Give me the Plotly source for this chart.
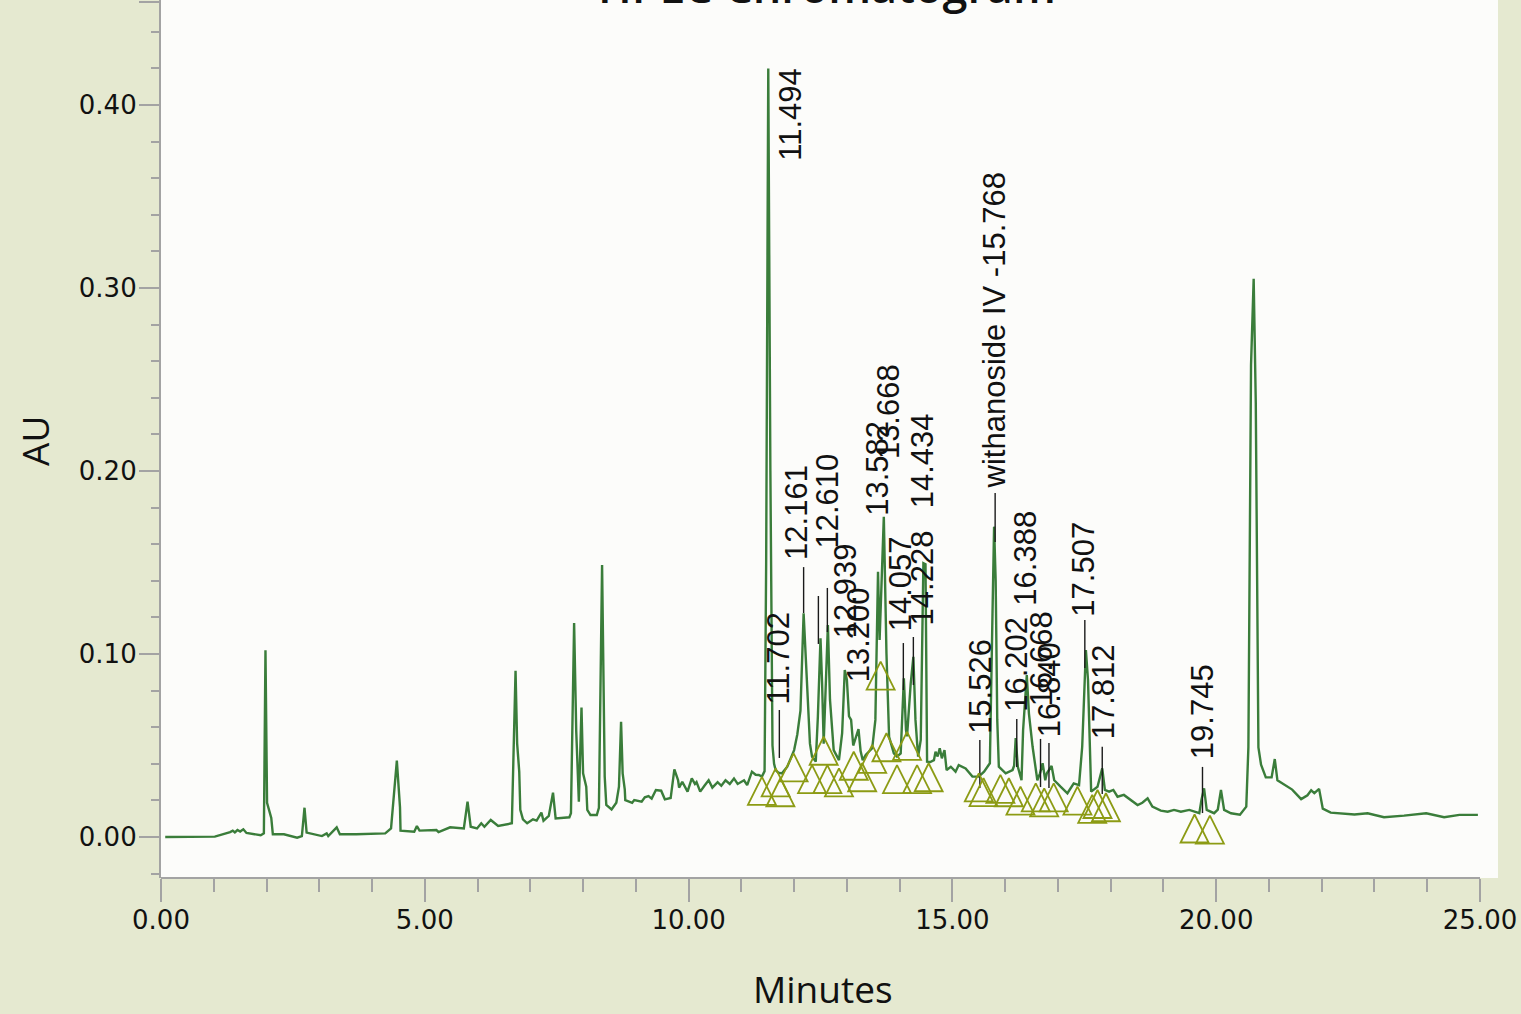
import plotly.graph_objects as go

# ---------------- data ----------------
time_min = [
    0.08, 1.02, 1.31, 1.36, 1.40, 1.45, 1.50, 1.56, 1.62, 1.89, 1.95, 1.98, 2.01, 2.09, 2.12,
    2.33, 2.58, 2.67, 2.72, 2.76, 3.05, 3.14, 3.17, 3.33, 3.39, 3.70, 4.25, 4.36, 4.47, 4.53,
    4.54, 4.80, 4.85, 4.90, 5.22, 5.26, 5.48, 5.74, 5.81, 5.87, 5.99, 6.07, 6.13, 6.25, 6.39,
    6.54, 6.65, 6.72, 6.75, 6.79, 6.81, 6.86, 6.94, 7.05, 7.12, 7.21, 7.25, 7.35, 7.43, 7.48,
    7.74, 7.77, 7.83, 7.87, 7.92, 7.97, 8.00, 8.06, 8.08, 8.14, 8.26, 8.30, 8.36, 8.41, 8.44,
    8.54, 8.63, 8.68, 8.72, 8.75, 8.79, 8.80, 8.93, 8.97, 9.11, 9.17, 9.24, 9.30, 9.38, 9.48,
    9.55, 9.66, 9.73, 9.80, 9.82, 9.88, 9.98, 10.06, 10.12, 10.15, 10.22, 10.30, 10.38, 10.45,
    10.55, 10.62, 10.70, 10.78, 10.86, 10.93, 10.98, 11.05, 11.11, 11.20, 11.27, 11.33, 11.39,
    11.44, 11.47, 11.51, 11.55, 11.59, 11.62, 11.65, 11.70, 11.77, 11.87, 12.00, 12.06, 12.12,
    12.18, 12.25, 12.30, 12.34, 12.41, 12.45, 12.50, 12.53, 12.56, 12.59, 12.64, 12.68, 12.75,
    12.85, 12.91, 12.96, 13.00, 13.04, 13.08, 13.12, 13.18, 13.22, 13.26, 13.30, 13.36, 13.42,
    13.48, 13.54, 13.59, 13.62, 13.66, 13.70, 13.75, 13.80, 13.89, 13.95, 14.02, 14.08, 14.12,
    14.14, 14.21, 14.26, 14.30, 14.35, 14.40, 14.45, 14.49, 14.52, 14.58, 14.65, 14.68, 14.72,
    14.76, 14.80, 14.85, 14.89, 14.97, 15.06, 15.12, 15.25, 15.38, 15.50, 15.60, 15.71, 15.76,
    15.79, 15.82, 15.85, 15.88, 16.01, 16.14, 16.17, 16.20, 16.24, 16.31, 16.34, 16.41, 16.45,
    16.52, 16.61, 16.66, 16.71, 16.76, 16.79, 16.88, 16.93, 17.05, 17.18, 17.30, 17.40, 17.46,
    17.53, 17.57, 17.61, 17.63, 17.75, 17.80, 17.84, 17.89, 17.97, 18.05, 18.13, 18.25, 18.38,
    18.51, 18.60, 18.70, 18.79, 18.95, 19.08, 19.20, 19.33, 19.49, 19.68, 19.72, 19.77, 19.82,
    19.96, 20.03, 20.09, 20.15, 20.28, 20.45, 20.57, 20.61, 20.66, 20.71, 20.75, 20.80, 20.85,
    20.94, 21.05, 21.11, 21.16, 21.32, 21.44, 21.61, 21.73, 21.80, 21.86, 21.95, 22.02, 22.17,
    22.36, 22.62, 22.87, 23.18, 23.56, 23.98, 24.32, 24.61, 24.96,
]
absorbance = [
    0.0000, 0.0002, 0.0027, 0.0035, 0.0025, 0.0038, 0.0030, 0.0042, 0.0022, 0.0010, 0.0020, 0.1020, 0.0187, 0.0104, 0.0015,
    0.0015, -0.0004, 0.0005, 0.0160, 0.0024, 0.0005, 0.0020, 0.0005, 0.0053, 0.0015, 0.0015, 0.0020, 0.0047, 0.0417, 0.0162,
    0.0035, 0.0029, 0.0060, 0.0035, 0.0038, 0.0027, 0.0053, 0.0047, 0.0193, 0.0056, 0.0047, 0.0075, 0.0056, 0.0093, 0.0060,
    0.0071, 0.0075, 0.0909, 0.0512, 0.0357, 0.0148, 0.0097, 0.0075, 0.0097, 0.0090, 0.0133, 0.0089, 0.0115, 0.0242, 0.0102,
    0.0108, 0.0130, 0.1170, 0.0580, 0.0193, 0.0707, 0.0348, 0.0275, 0.0148, 0.0120, 0.0120, 0.0159, 0.1486, 0.0330, 0.0175,
    0.0151, 0.0187, 0.0275, 0.0630, 0.0348, 0.0260, 0.0202, 0.0187, 0.0202, 0.0193, 0.0217, 0.0224, 0.0210, 0.0257, 0.0253,
    0.0206, 0.0213, 0.0370, 0.0311, 0.0270, 0.0302, 0.0248, 0.0320, 0.0290, 0.0300, 0.0248, 0.0280, 0.0310, 0.0270,
    0.0300, 0.0280, 0.0310, 0.0290, 0.0320, 0.0290, 0.0300, 0.0310, 0.0284, 0.0357, 0.0340, 0.0339, 0.0330,
    0.0360, 0.1500, 0.4200, 0.2000, 0.0500, 0.0400, 0.0366, 0.0352, 0.0348, 0.0384, 0.0475, 0.0560, 0.0690,
    0.1222, 0.0840, 0.0510, 0.0439, 0.0412, 0.0657, 0.1086, 0.0840, 0.0510, 0.0750, 0.1158, 0.0749, 0.0475,
    0.0420, 0.0567, 0.0913, 0.0860, 0.0660, 0.0640, 0.0500, 0.0560, 0.0590, 0.0470, 0.0420, 0.0450, 0.0470,
    0.0485, 0.0640, 0.1450, 0.1077, 0.1400, 0.1750, 0.1004, 0.0548, 0.0457, 0.0439, 0.0457, 0.0867, 0.0585,
    0.0550, 0.0840, 0.0985, 0.0640, 0.0439, 0.0530, 0.1496, 0.1490, 0.0412, 0.0410, 0.0420, 0.0466, 0.0440,
    0.0485, 0.0430, 0.0475, 0.0366, 0.0384, 0.0357, 0.0393, 0.0375, 0.0330, 0.0330, 0.0357, 0.0403, 0.1220,
    0.1696, 0.1400, 0.0640, 0.0384, 0.0348, 0.0366, 0.0390, 0.0540, 0.0384, 0.0310, 0.0585, 0.0885, 0.0676,
    0.0493, 0.0310, 0.0348, 0.0403, 0.0310, 0.0348, 0.0388, 0.0310, 0.0275, 0.0239, 0.0293, 0.0284, 0.0493,
    0.1022, 0.0858, 0.0403, 0.0248, 0.0275, 0.0330, 0.0375, 0.0257, 0.0248, 0.0257, 0.0220, 0.0230, 0.0202,
    0.0175, 0.0187, 0.0211, 0.0166, 0.0144, 0.0138, 0.0148, 0.0138, 0.0148, 0.0130, 0.0202, 0.0266, 0.0148,
    0.0130, 0.0150, 0.0257, 0.0148, 0.0130, 0.0122, 0.0166, 0.0490, 0.2580, 0.3050, 0.2370, 0.0490, 0.0395,
    0.0326, 0.0326, 0.0426, 0.0310, 0.0280, 0.0259, 0.0207, 0.0228, 0.0255, 0.0240, 0.0263, 0.0155, 0.0133,
    0.0130, 0.0123, 0.0130, 0.0108, 0.0117, 0.0130, 0.0108, 0.0121, 0.0121,
]

# peak labels: text, time at which the label stands, AU where the label begins
label_text = ["11.494", "11.702", "12.161", "12.610", "12.939", "13.200", "13.582", "13.668",
              "14.057", "14.228", "14.434", "15.526", "withanoside IV -15.768", "16.202",
              "16.388", "16.668", "16.840", "17.507", "17.812", "19.745"]
label_time = [11.93, 11.71, 12.03, 12.63, 12.99, 13.22, 13.58, 13.79,
              14.02, 14.43, 14.45, 15.52, 15.79, 16.20,
              16.39, 16.69, 16.84, 17.49, 17.87, 19.74]
label_base = [0.369, 0.072, 0.151, 0.157, 0.108, 0.084, 0.175, 0.206,
              0.112, 0.115, 0.179, 0.056, 0.190, 0.068,
              0.126, 0.071, 0.054, 0.120, 0.053, 0.042]

# leader lines drawn from peak apex upward
leader_time = [11.72, 12.18, 12.46, 12.63, 14.07, 14.26, 15.52, 15.81, 16.22, 16.67, 16.83, 17.51, 17.84, 19.74]
leader_low = [0.0432, 0.1224, 0.1055, 0.1120, 0.0803, 0.0831, 0.0268, 0.1612, 0.0383, 0.0273, 0.0268, 0.0923, 0.0235, 0.0131]
leader_high = [0.0694, 0.1475, 0.1317, 0.1361, 0.1060, 0.1093, 0.0530, 0.1880, 0.0645, 0.0536, 0.0514, 0.1186, 0.0493, 0.0383]

# integration (peak start / end) markers
marker_time = [11.39, 11.65, 11.74, 11.99, 12.34, 12.56, 12.63, 12.85, 13.13, 13.29, 13.48, 13.64,
               13.75, 13.95, 14.14, 14.33, 14.55, 15.50, 15.59, 15.91, 16.07, 16.29, 16.58, 16.74,
               16.92, 17.37, 17.65, 17.75, 17.91, 19.59, 19.88]
marker_au = [0.0329, 0.0375, 0.0321, 0.0457, 0.0393, 0.0548, 0.0393, 0.0375, 0.0466, 0.0403, 0.0503, 0.0958,
             0.0567, 0.0393, 0.0575, 0.0393, 0.0403, 0.0348, 0.0322, 0.0339, 0.0321, 0.0275, 0.0293, 0.0266,
             0.0293, 0.0275, 0.0230, 0.0257, 0.0239, 0.0123, 0.0117]

x_ticks = [0, 5, 10, 15, 20, 25]
x_tick_text = ["0.00", "5.00", "10.00", "15.00", "20.00", "25.00"]
y_ticks = [0.0, 0.1, 0.2, 0.3, 0.4]
y_tick_text = ["0.00", "0.10", "0.20", "0.30", "0.40"]

# ---------------- styling ----------------
PAPER = "#e5e9d0"
PLOT = "#fcfcfa"
GREEN = "#3a7d3a"
OLIVE = "#8c9b14"
AXIS = "#a3a3a3"
TICKFONT = dict(family="DejaVu Sans, sans-serif", size=26, color="#111111")
LABELFONT = dict(family="Liberation Sans, Arial, sans-serif", size=31, color="#111111")

Y_MIN, Y_MAX = -0.0224, 0.4574
X_MAX = 25.341

fig = go.Figure()

fig.add_trace(go.Scatter(x=time_min, y=absorbance, mode="lines",
                         line=dict(color=GREEN, width=2.4), hoverinfo="skip", showlegend=False))

lx, ly = [], []
for t, lo, hi in zip(leader_time, leader_low, leader_high):
    lx += [t, t, None]
    ly += [lo, hi, None]
fig.add_trace(go.Scatter(x=lx, y=ly, mode="lines", line=dict(color="#1a1a1a", width=1.4),
                         hoverinfo="skip", showlegend=False))

fig.add_trace(go.Scatter(x=marker_time, y=marker_au, mode="markers",
                         marker=dict(symbol="arrow-up-open", size=28, color=OLIVE,
                                     line=dict(color=OLIVE, width=1.8)),
                         hoverinfo="skip", showlegend=False))

annotations = []
for txt, t, b in zip(label_text, label_time, label_base):
    annotations.append(dict(x=t, y=b, xref="x", yref="y", text=txt, showarrow=False,
                            textangle=-90, xanchor="center", yanchor="bottom",
                            font=LABELFONT, borderpad=0))

annotations.append(dict(x=0.4978, y=1, xref="paper", yref="paper", text="HPLC Chromatogram",
                        showarrow=False, xanchor="center", yanchor="middle", yshift=15,
                        font=dict(family="Open Sans, sans-serif", size=45, color="#111111",
                                  weight=600)))
annotations.append(dict(x=0.4951, y=-0.1253, xref="paper", yref="paper", text="Minutes",
                        showarrow=False, xanchor="center", yanchor="middle",
                        font=dict(family="Open Sans, sans-serif", size=37, color="#111111")))
annotations.append(dict(x=-0.0950, y=0.4977, xref="paper", yref="paper", text="AU",
                        showarrow=False, xanchor="center", yanchor="middle", textangle=-90,
                        font=dict(family="Open Sans, sans-serif", size=37, color="#111111")))

fig.update_layout(
    width=1521, height=1014,
    margin=dict(l=161, r=23, t=0, b=136),
    paper_bgcolor=PAPER, plot_bgcolor=PLOT,
    annotations=annotations,
    shapes=[dict(type="line", xref="x", yref="paper", x0=-0.3, x1=25, y0=0, y1=0,
                 line=dict(color=AXIS, width=2.2))],
)

fig.update_xaxes(range=[0, X_MAX], showgrid=False, zeroline=False, showline=False,
                 tickmode="array", tickvals=x_ticks, ticktext=x_tick_text,
                 ticks="outside", ticklen=23, tickwidth=1.8, tickcolor=AXIS,
                 tickfont=TICKFONT, ticklabelstandoff=-4,
                 minor=dict(tickmode="linear", tick0=0, dtick=1, ticks="outside",
                            ticklen=13, tickwidth=1.8, tickcolor=AXIS, showgrid=False))
fig.update_yaxes(range=[Y_MIN, Y_MAX], showgrid=False, zeroline=False,
                 showline=True, linecolor=AXIS, linewidth=2.2,
                 tickmode="array", tickvals=y_ticks + [0.4563], ticktext=y_tick_text + [""],
                 ticks="outside", ticklen=20, tickwidth=1.8, tickcolor=AXIS,
                 tickfont=TICKFONT, ticklabelstandoff=-3,
                 minor=dict(tickmode="linear", tick0=0, dtick=0.02, ticks="outside",
                            ticklen=8, tickwidth=1.8, tickcolor=AXIS, showgrid=False))

fig.write_html("out.html", config={"displayModeBar": False},
               post_script="document.body.style.margin='0px';")
